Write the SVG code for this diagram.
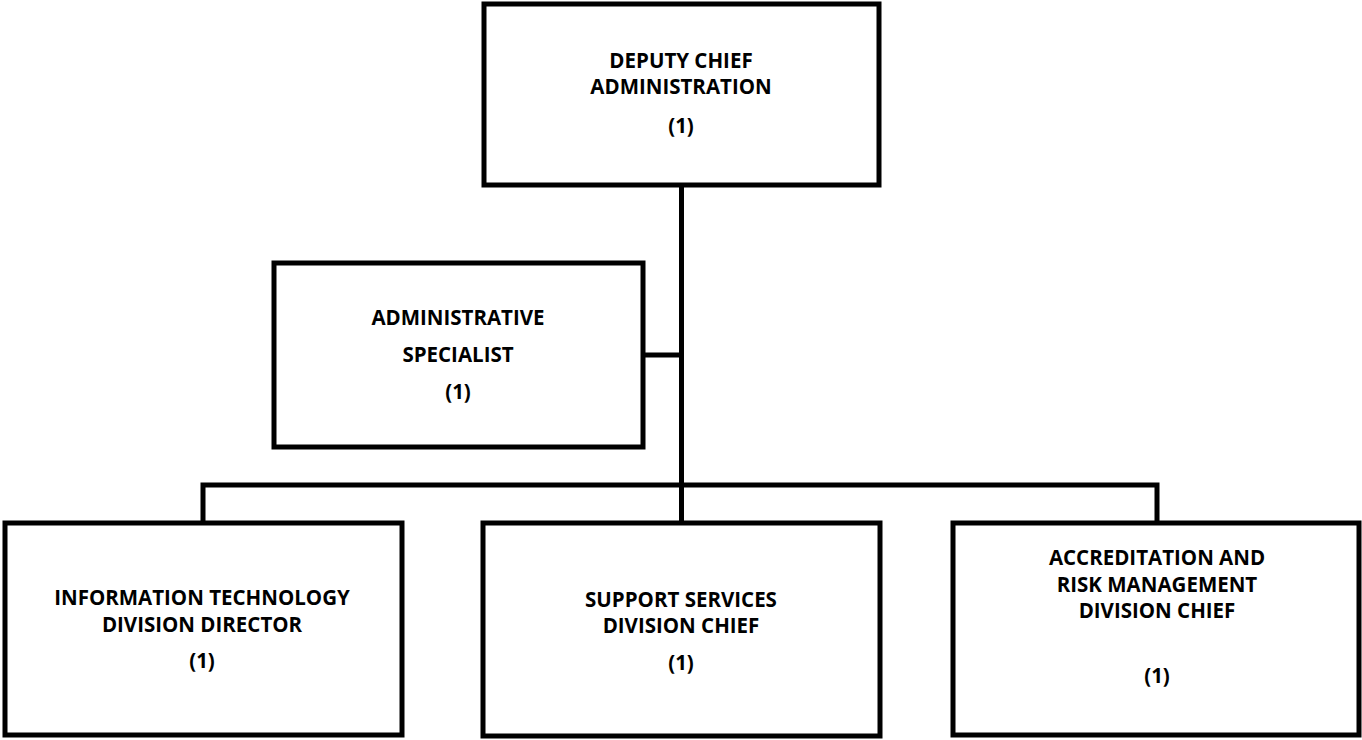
<svg xmlns="http://www.w3.org/2000/svg" width="1362" height="740" viewBox="0 0 1362 740">
<style>
.box{fill:#fff;stroke:#000;stroke-width:5}
.ln{fill:none;stroke:#000;stroke-width:5}
text{font-family:"Open Sans","Liberation Sans",sans-serif;font-weight:bold;font-size:20.5px;fill:#000;text-anchor:middle}
</style>
<rect width="1362" height="740" fill="#fff"/>
<g id="connectors">
<path class="ln" d="M681.5 185V523"/>
<path class="ln" d="M643 355H681.5"/>
<path class="ln" d="M203 523V485H1157V523"/>
</g>
<g id="deputy-chief">
<rect class="box" x="484" y="4" width="395" height="181"/>
<text x="681" y="68">DEPUTY CHIEF</text>
<text x="681" y="94">ADMINISTRATION</text>
<text x="681" y="133">(1)</text>
</g>
<g id="admin-specialist">
<rect class="box" x="274" y="263" width="369" height="184"/>
<text x="458" y="325">ADMINISTRATIVE</text>
<text x="458" y="362">SPECIALIST</text>
<text x="458" y="399">(1)</text>
</g>
<g id="it-director">
<rect class="box" x="5" y="523" width="397" height="212"/>
<text x="202" y="605">INFORMATION TECHNOLOGY</text>
<text x="202" y="632">DIVISION DIRECTOR</text>
<text x="202" y="668">(1)</text>
</g>
<g id="support-services">
<rect class="box" x="483" y="523" width="397" height="213"/>
<text x="681" y="607">SUPPORT SERVICES</text>
<text x="681" y="633">DIVISION CHIEF</text>
<text x="681" y="670">(1)</text>
</g>
<g id="accreditation">
<rect class="box" x="953" y="523" width="406" height="212"/>
<text x="1157" y="565">ACCREDITATION AND</text>
<text x="1157" y="592">RISK MANAGEMENT</text>
<text x="1157" y="618">DIVISION CHIEF</text>
<text x="1157" y="683">(1)</text>
</g>
</svg>
